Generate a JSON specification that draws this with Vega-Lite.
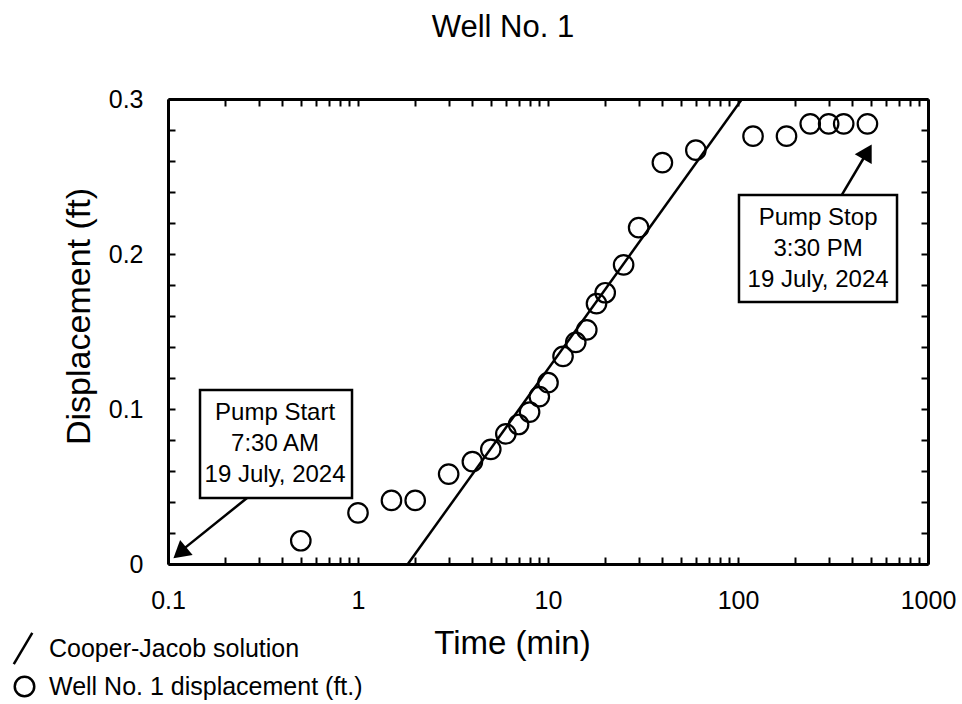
{
  "$schema": "https://vega.github.io/schema/vega-lite/v6.json",
  "width": 760,
  "height": 465,
  "autosize": {"type": "none"},
  "padding": {"left": 168, "top": 99, "right": 34, "bottom": 140},
  "background": "white",
  "config": {"view": {"stroke": null}, "font": "Liberation Sans", "axis": {"grid": false}},
  "title": {"text": "Well No. 1", "fontSize": 31, "fontWeight": "normal", "font": "Liberation Sans", "color": "black", "dx": -45, "offset": 43, "anchor": "middle"},
  "datasets": {
    "obs": [
      {"t": 0.5, "d": 0.015, "series": "Well No. 1 displacement (ft.)"},
      {"t": 1, "d": 0.033, "series": "Well No. 1 displacement (ft.)"},
      {"t": 1.5, "d": 0.041, "series": "Well No. 1 displacement (ft.)"},
      {"t": 2, "d": 0.041, "series": "Well No. 1 displacement (ft.)"},
      {"t": 3, "d": 0.058, "series": "Well No. 1 displacement (ft.)"},
      {"t": 4, "d": 0.066, "series": "Well No. 1 displacement (ft.)"},
      {"t": 5, "d": 0.074, "series": "Well No. 1 displacement (ft.)"},
      {"t": 6, "d": 0.084, "series": "Well No. 1 displacement (ft.)"},
      {"t": 7, "d": 0.090, "series": "Well No. 1 displacement (ft.)"},
      {"t": 8, "d": 0.098, "series": "Well No. 1 displacement (ft.)"},
      {"t": 9, "d": 0.108, "series": "Well No. 1 displacement (ft.)"},
      {"t": 10, "d": 0.117, "series": "Well No. 1 displacement (ft.)"},
      {"t": 12, "d": 0.134, "series": "Well No. 1 displacement (ft.)"},
      {"t": 14, "d": 0.143, "series": "Well No. 1 displacement (ft.)"},
      {"t": 16, "d": 0.151, "series": "Well No. 1 displacement (ft.)"},
      {"t": 18, "d": 0.168, "series": "Well No. 1 displacement (ft.)"},
      {"t": 20, "d": 0.175, "series": "Well No. 1 displacement (ft.)"},
      {"t": 25, "d": 0.193, "series": "Well No. 1 displacement (ft.)"},
      {"t": 30, "d": 0.217, "series": "Well No. 1 displacement (ft.)"},
      {"t": 40, "d": 0.259, "series": "Well No. 1 displacement (ft.)"},
      {"t": 60, "d": 0.267, "series": "Well No. 1 displacement (ft.)"},
      {"t": 120, "d": 0.276, "series": "Well No. 1 displacement (ft.)"},
      {"t": 180, "d": 0.276, "series": "Well No. 1 displacement (ft.)"},
      {"t": 240, "d": 0.284, "series": "Well No. 1 displacement (ft.)"},
      {"t": 300, "d": 0.284, "series": "Well No. 1 displacement (ft.)"},
      {"t": 360, "d": 0.284, "series": "Well No. 1 displacement (ft.)"},
      {"t": 480, "d": 0.284, "series": "Well No. 1 displacement (ft.)"}
    ],
    "fit": [
      {"t": 1.83, "d": 0},
      {"t": 105, "d": 0.3}
    ],
    "boxes": [
      {"t": 0.1474, "t2": 0.93, "d": 0.0426, "d2": 0.1123},
      {"t": 101.2, "t2": 687, "d": 0.169, "d2": 0.2381}
    ],
    "labels": [
      {"t": 0.366, "d": 0.0974, "label": "Pump Start\n7:30 AM\n19 July, 2024"},
      {"t": 264, "d": 0.2232, "label": "Pump Stop\n3:30 PM\n19 July, 2024"}
    ],
    "arrows": [
      {"t": 0.2606, "d": 0.0426, "t2": 0.116, "d2": 0.008},
      {"t": 352, "d": 0.2381, "t2": 475, "d2": 0.265}
    ],
    "heads": [
      {"t": 0.1155, "d": 0.0072, "angle": 230},
      {"t": 480, "d": 0.266, "angle": 30}
    ]
  },
  "resolve": {"axis": {"x": "independent", "y": "independent"}},
  "layer": [
    {
      "encoding": {
        "x": {
          "field": "t",
          "type": "quantitative",
          "scale": {"type": "log", "domain": [0.1, 1000], "nice": false},
          "axis": {
            "values": [0.1, 0.2, 0.3, 0.4, 0.5, 0.6, 0.7, 0.8, 0.9, 1, 2, 3, 4, 5, 6, 7, 8, 9, 10, 20, 30, 40, 50, 60, 70, 80, 90, 100, 200, 300, 400, 500, 600, 700, 800, 900, 1000],
            "format": "~g",
            "labelExpr": "indexof([0.1, 1, 10, 100, 1000], datum.value) >= 0 ? datum.label : ''",
            "labelOverlap": false,
            "labelFlush": false,
            "labelFontSize": 25,
            "labelFont": "Liberation Sans",
            "labelColor": "black",
            "labelPadding": 31,
            "tickSize": -7,
            "tickWidth": 2,
            "tickColor": "black",
            "domainWidth": 3,
            "domainColor": "black",
            "title": "Time (min)",
            "titleFontSize": 33,
            "titleFontWeight": "normal",
            "titleFont": "Liberation Sans",
            "titleColor": "black",
            "titleX": 344,
            "titleY": 89,
            "titleBaseline": "alphabetic",
            "grid": false
          }
        },
        "y": {
          "field": "d",
          "type": "quantitative",
          "scale": {"domain": [0, 0.3], "nice": false, "zero": false},
          "axis": {
            "values": [0, 0.02, 0.04, 0.06, 0.08, 0.1, 0.12, 0.14, 0.16, 0.18, 0.2, 0.22, 0.24, 0.26, 0.28, 0.3],
            "format": "~g",
            "labelExpr": "indexof([0, 0.1, 0.2, 0.3], datum.value) >= 0 ? datum.label : ''",
            "labelOverlap": false,
            "labelFlush": false,
            "labelFontSize": 25,
            "labelFont": "Liberation Sans",
            "labelColor": "black",
            "labelPadding": 32,
            "tickSize": -7,
            "tickWidth": 2,
            "tickColor": "black",
            "domainWidth": 3,
            "domainColor": "black",
            "title": "Displacement (ft)",
            "titleFontSize": 34,
            "titleFontWeight": "normal",
            "titleFont": "Liberation Sans",
            "titleColor": "black",
            "titleX": -79,
            "titleY": 217,
            "titleBaseline": "alphabetic",
            "grid": false
          }
        }
      },
      "layer": [
        {
          "data": {"name": "fit"},
          "mark": {"type": "line", "color": "black", "strokeWidth": 2.5},
          "encoding": {}
        },
        {
          "data": {"name": "obs"},
          "mark": {"type": "point", "filled": false, "color": "black", "strokeWidth": 2.2, "size": 380, "opacity": 1},
          "encoding": {
            "shape": {
              "field": "series",
              "type": "nominal",
              "scale": {"domain": ["Cooper-Jacob solution", "Well No. 1 displacement (ft.)"], "range": ["M-1.1,1.6L0.8,-1.6", "circle"]},
              "legend": {
                "title": null,
                "orient": "none",
                "legendX": -156,
                "legendY": 537,
                "padding": 0,
                "labelFontSize": 25,
                "labelFont": "Liberation Sans",
                "labelColor": "black",
                "labelLimit": 500,
                "symbolSize": 380,
                "symbolStrokeWidth": 2.5,
                "symbolStrokeColor": "black",
                "symbolFillColor": "transparent",
                "labelOffset": 12,
                "rowPadding": 1
              }
            }
          }
        },
        {
          "data": {"name": "boxes"},
          "mark": {"type": "rect", "fill": "white", "stroke": "black", "strokeWidth": 2.5},
          "encoding": {"x2": {"field": "t2"}, "y2": {"field": "d2"}}
        },
        {
          "data": {"name": "labels"},
          "mark": {"type": "text", "fontSize": 24, "lineBreak": "\n", "lineHeight": 31, "align": "center", "baseline": "middle", "font": "Liberation Sans", "color": "black"},
          "encoding": {"text": {"field": "label", "type": "nominal"}}
        },
        {
          "data": {"name": "arrows"},
          "mark": {"type": "rule", "strokeWidth": 2.5, "color": "black"},
          "encoding": {"x2": {"field": "t2"}, "y2": {"field": "d2"}}
        },
        {
          "data": {"name": "heads"},
          "mark": {"type": "point", "shape": "triangle-up", "filled": true, "color": "black", "size": 380, "opacity": 1},
          "encoding": {"angle": {"field": "angle", "type": "quantitative", "scale": null}}
        }
      ]
    },
    {
      "data": {"name": "obs"},
      "mark": {"type": "point", "opacity": 0},
      "encoding": {
        "x": {
          "field": "t",
          "type": "quantitative",
          "axis": {
            "orient": "top",
            "labels": false,
            "title": null,
            "values": [0.1, 0.2, 0.3, 0.4, 0.5, 0.6, 0.7, 0.8, 0.9, 1, 2, 3, 4, 5, 6, 7, 8, 9, 10, 20, 30, 40, 50, 60, 70, 80, 90, 100, 200, 300, 400, 500, 600, 700, 800, 900, 1000],
            "tickSize": -7,
            "tickWidth": 2,
            "tickColor": "black",
            "domainWidth": 3,
            "domainColor": "black",
            "grid": false
          }
        },
        "y": {
          "field": "d",
          "type": "quantitative",
          "axis": {
            "orient": "right",
            "labels": false,
            "title": null,
            "values": [0, 0.02, 0.04, 0.06, 0.08, 0.1, 0.12, 0.14, 0.16, 0.18, 0.2, 0.22, 0.24, 0.26, 0.28, 0.3],
            "tickSize": -7,
            "tickWidth": 2,
            "tickColor": "black",
            "domainWidth": 3,
            "domainColor": "black",
            "grid": false
          }
        }
      }
    }
  ]
}
